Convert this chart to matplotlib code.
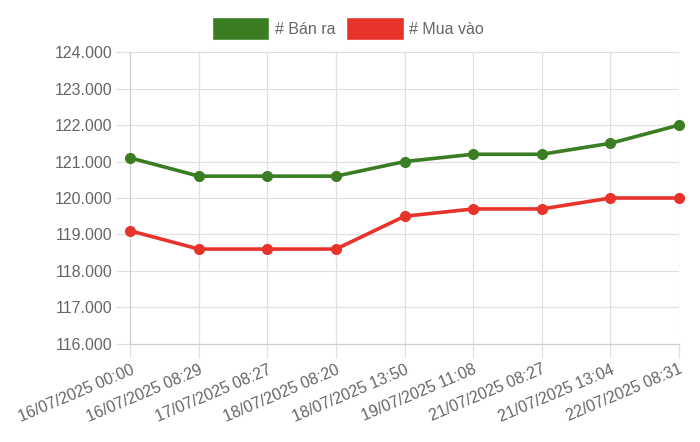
import matplotlib
matplotlib.use("Agg")
import matplotlib.pyplot as plt
from matplotlib.patches import Patch
from matplotlib.ticker import FuncFormatter, MultipleLocator

plt.rcParams["font.family"] = ["Liberation Sans", "DejaVu Sans"]

# ============================================================
# DATA
# ============================================================

labels = [
    "16/07/2025 00:00", "16/07/2025 08:29", "17/07/2025 08:27",
    "18/07/2025 08:20", "18/07/2025 13:50", "19/07/2025 11:08",
    "21/07/2025 08:27", "21/07/2025 13:04", "22/07/2025 08:31",
]
ban_ra = [121100, 120600, 120600, 120600, 121000, 121200, 121200, 121500, 122000]
mua_vao = [119100, 118600, 118600, 118600, 119500, 119700, 119700, 120000, 120000]

GREEN = "#3a7d22"
RED = "#e8332a"
TEXT = "#666666"
GRID = "#e0e0e0"

# ============================================================
# PLOT
# ============================================================

fig = plt.figure(figsize=(7.0, 4.42), dpi=100)
ax = fig.add_axes([0.186, 0.222, 0.784, 0.660])

x = list(range(len(labels)))
ax.plot(x, ban_ra, color=GREEN, lw=2.6, marker="o", ms=7, zorder=3, clip_on=False)
ax.plot(x, mua_vao, color=RED, lw=2.6, marker="o", ms=7, zorder=3, clip_on=False)

ax.set_xlim(0, len(labels) - 1)
ax.set_ylim(116000, 124000)
ax.yaxis.set_major_locator(MultipleLocator(1000))
ax.yaxis.set_major_formatter(
    FuncFormatter(lambda v, p: f"{int(v):,}".replace(",", "."))
)

ax.set_xticks(x)
ax.set_xticklabels(labels, rotation=23, ha="right", rotation_mode="anchor")

ax.grid(True, color=GRID, lw=0.9)
ax.set_axisbelow(True)
for s in ["top", "right"]:
    ax.spines[s].set_visible(False)
for s in ["left", "bottom"]:
    ax.spines[s].set_color("#cccccc")
ax.tick_params(axis="both", colors=GRID, labelcolor=TEXT, labelsize=11.5,
               length=10, width=0.9)
ax.tick_params(axis="y", pad=3)
ax.tick_params(axis="x", pad=3)

handles = [
    Patch(facecolor=GREEN, edgecolor="white", label="# Bán ra"),
    Patch(facecolor=RED, edgecolor="white", label="# Mua vào"),
]
fig.legend(handles=handles, loc="upper center", bbox_to_anchor=(0.497, 0.995),
           ncol=2, frameon=False, fontsize=11.5, labelcolor=TEXT,
           handlelength=3.6, handleheight=1.9, handletextpad=0.35,
           columnspacing=0.7)

fig.savefig("out.png", dpi=100)
